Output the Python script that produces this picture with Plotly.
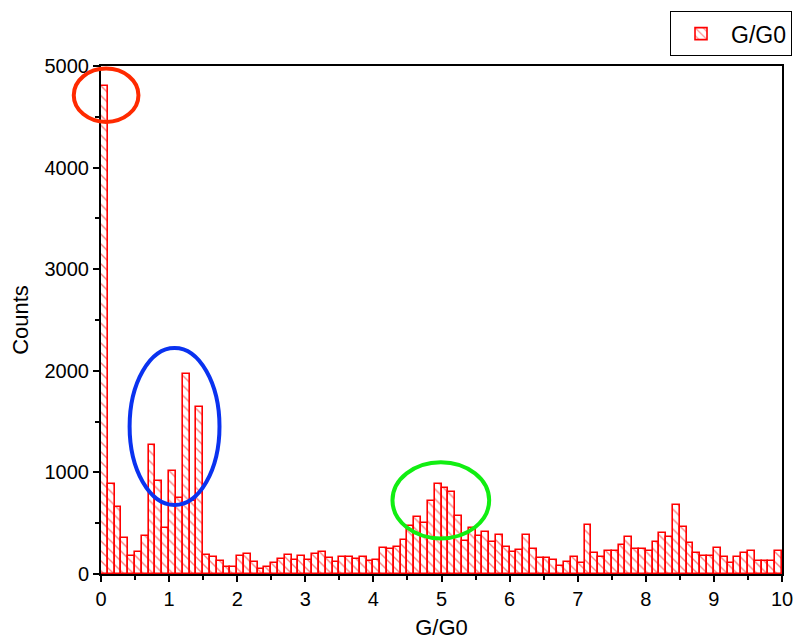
import plotly.graph_objects as go

# Histogram of conductance values, bins of width 0.1 G0
bin_width = 0.1
bin_starts = [round(i * bin_width, 1) for i in range(100)]
counts = [
    4800, 890, 660, 350, 180, 215, 370, 1265, 915, 455,
    1010, 750, 1965, 720, 1640, 185, 170, 125, 65, 70,
    175, 195, 120, 45, 72, 112, 144, 190, 138, 174,
    135, 200, 214, 158, 118, 166, 171, 145, 164, 128,
    135, 260, 247, 270, 333, 470, 565, 500, 722, 890,
    845, 812, 572, 325, 450, 370, 412, 316, 385, 262,
    214, 232, 387, 250, 155, 153, 135, 79, 122, 171,
    113, 487, 204, 164, 227, 230, 286, 365, 243, 250,
    227, 316, 401, 368, 676, 467, 302, 204, 181, 178,
    253, 171, 105, 168, 204, 227, 125, 125, 131, 230,
]
series_name = "G/G0"
x_title = "G/G0"
y_title = "Counts"
x_range = [0, 10]
y_range = [0, 5000]
x_tick_vals = list(range(0, 11))
y_tick_vals = list(range(0, 5001, 1000))

# Highlight ellipses (data coordinates: x0, x1, y0, y1, colour)
highlights = [
    (-0.40, 0.55, 4450, 4975, "#ff2a00"),
    (0.42, 1.74, 680, 2225, "#0a32f0"),
    (4.28, 5.70, 350, 1100, "#11ee11"),
]

font_family = "Liberation Sans, Arial, sans-serif"

fig = go.Figure()
fig.add_trace(go.Bar(
    x=[b + bin_width / 2 for b in bin_starts],
    y=counts,
    width=bin_width,
    name=series_name,
    showlegend=True,
    marker=dict(
        color="white",
        line=dict(color="#ff0000", width=1.6),
        pattern=dict(shape="\\", fgcolor="#ff0000", bgcolor="white",
                     size=7, solidity=0.2, fillmode="overlay"),
    ),
))


def to_paper(v, rng):
    return (v - rng[0]) / (rng[1] - rng[0])


for x0, x1, y0, y1, col in highlights:
    fig.add_shape(
        type="circle", xref="paper", yref="paper",
        x0=to_paper(x0, x_range), x1=to_paper(x1, x_range),
        y0=to_paper(y0, y_range), y1=to_paper(y1, y_range),
        line=dict(color=col, width=4), fillcolor="rgba(0,0,0,0)",
        layer="above",
    )

axis_common = dict(
    showline=True, linecolor="black", linewidth=2, mirror=True,
    ticks="outside", tickcolor="black", tickwidth=1.5, ticklen=6,
    showgrid=False, zeroline=False, automargin=False,
    tickfont=dict(family=font_family, size=20, color="black"),
)

fig.update_xaxes(
    range=x_range, tickvals=x_tick_vals,
    title=dict(text=x_title, font=dict(family=font_family, size=22, color="black"), standoff=16),
    minor=dict(ticks="outside", dtick=0.5, ticklen=4, tickcolor="black", tickwidth=1.5),
    **axis_common,
)
fig.update_yaxes(
    range=y_range, tickvals=y_tick_vals,
    title=dict(text=y_title, font=dict(family=font_family, size=22, color="black"), standoff=10),
    minor=dict(ticks="outside", dtick=500, ticklen=4, tickcolor="black", tickwidth=1.5),
    **axis_common,
)

fig.update_layout(
    width=797, height=640,
    margin=dict(l=101, r=15, t=66, b=66, autoexpand=False),
    plot_bgcolor="white", paper_bgcolor="white",
    bargap=0,
    legend=dict(
        x=1.0147, y=1.108, xanchor="right", yanchor="top",
        bordercolor="black", borderwidth=1, bgcolor="white",
        font=dict(family=font_family, size=23, color="black"),
        itemwidth=50,
    ),
)

fig.write_html("out.html")
